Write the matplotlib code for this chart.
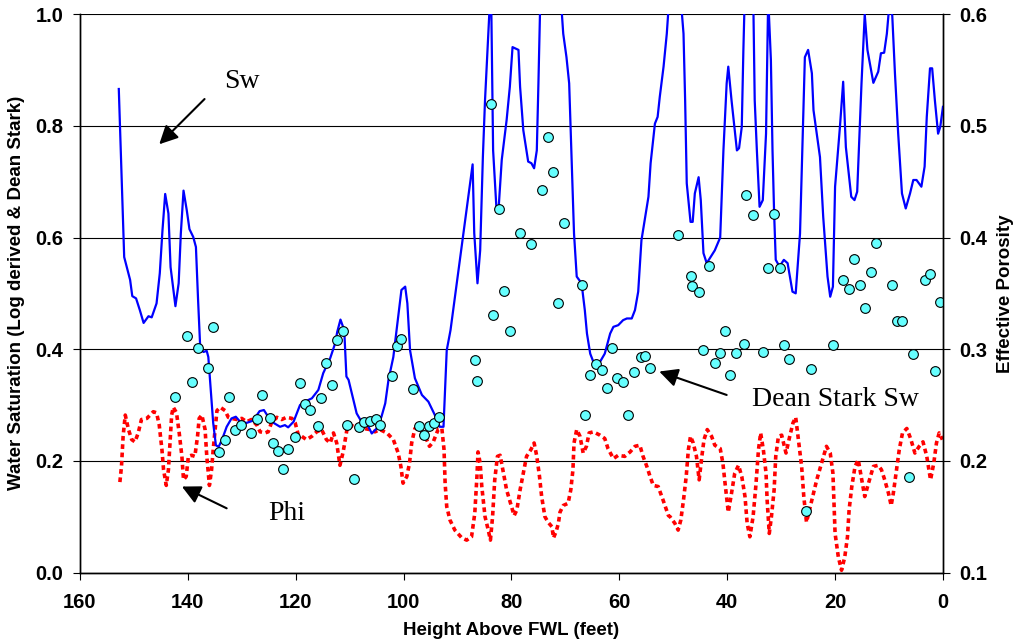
import matplotlib.pyplot as plt
from matplotlib.ticker import FormatStrFormatter

# log derived water saturation vs height above free water level
sw_height = [152.8, 151.8, 150.7, 150.3, 149.6, 148.9, 148.2, 147.3, 146.7, 145.8,
             145.2, 144.7, 144.2, 143.6, 143.2, 142.3, 141.7, 141.3, 140.8, 140.2,
             139.7, 139.0, 138.5, 138.1, 137.7, 137.1, 136.5, 136.2, 135.6, 135.3,
             134.8, 134.3, 133.7, 132.8, 131.9, 131.1, 130.3, 129.1, 127.9, 126.7,
             125.9, 125.1, 124.1, 122.9, 122.0, 121.4, 120.4, 119.2, 118.3, 117.0,
             115.8, 114.9, 113.6, 112.7, 112.3, 111.7, 111.0, 110.6, 110.2, 109.3,
             108.7, 107.8, 106.8, 105.9, 105.0, 104.1, 103.4, 102.8, 101.9, 100.4,
             99.7, 99.3, 98.8, 97.9, 96.6, 95.4, 94.2, 93.3, 92.6, 92.0,
             91.3, 88.9, 87.2, 86.9, 86.3, 85.8, 85.3, 84.9, 84.3, 83.8,
             83.4, 82.8, 82.4, 81.8, 80.9, 80.3, 79.8, 78.7, 78.4, 77.8,
             76.9, 76.3, 75.8, 75.3, 75.0, 74.6, 73.0, 71.0, 70.4, 69.8,
             69.3, 68.8, 68.4, 67.9, 67.0, 66.4, 66.0, 65.4, 64.8, 63.6,
             62.7, 61.7, 61.1, 60.2, 59.3, 58.6, 57.7, 57.1, 56.5, 55.9,
             55.2, 54.6, 54.2, 53.4, 52.9, 52.5, 51.8, 51.2, 50.6, 49.7,
             48.8, 48.1, 47.8, 47.5, 46.8, 46.4, 46.0, 45.3, 44.9, 44.4,
             43.8, 42.9, 42.3, 41.3, 40.7, 40.1, 39.8, 39.2, 38.2, 37.8,
             37.3, 37.0, 36.7, 36.0, 35.2, 34.9, 34.5, 34.0, 33.4, 32.8,
             32.4, 31.9, 31.6, 31.3, 31.0, 30.3, 29.5, 28.8, 27.9, 27.3,
             26.5, 25.6, 25.0, 24.3, 24.0, 22.8, 22.2, 21.4, 20.9, 20.4,
             20.0, 19.1, 18.5, 18.0, 17.0, 16.4, 15.9, 15.1, 14.5, 14.0,
             12.9, 12.0, 11.5, 10.9, 10.4, 10.0, 9.4, 8.9, 8.3, 7.6,
             6.9, 6.1, 5.5, 4.9, 4.0, 3.4, 3.0, 2.4, 2.0, 1.5,
             0.9, 0.5, 0.0]
sw = [0.866, 0.565, 0.524, 0.495, 0.491, 0.470, 0.447, 0.459, 0.457, 0.482,
      0.536, 0.613, 0.678, 0.643, 0.547, 0.477, 0.518, 0.607, 0.684, 0.649,
      0.615, 0.601, 0.583, 0.488, 0.402, 0.395, 0.397, 0.386, 0.309, 0.268,
      0.228, 0.225, 0.237, 0.261, 0.276, 0.279, 0.270, 0.268, 0.272, 0.289,
      0.291, 0.279, 0.268, 0.261, 0.264, 0.260, 0.270, 0.300, 0.306, 0.312,
      0.327, 0.357, 0.384, 0.410, 0.431, 0.453, 0.434, 0.351, 0.345, 0.309,
      0.285, 0.270, 0.267, 0.249, 0.258, 0.279, 0.303, 0.345, 0.386, 0.506,
      0.512, 0.482, 0.398, 0.348, 0.318, 0.306, 0.282, 0.261, 0.261, 0.398,
      0.434, 0.607, 0.731, 0.608, 0.518, 0.577, 0.744, 0.846, 0.965, 1.06,
      0.756, 0.655, 0.649, 0.739, 0.810, 0.870, 0.941, 0.936, 0.870, 0.792,
      0.736, 0.733, 0.724, 0.756, 0.876, 1.05, 1.15, 1.05, 0.965, 0.923,
      0.876, 0.727, 0.607, 0.530, 0.518, 0.470, 0.428, 0.392, 0.377, 0.377,
      0.392, 0.428, 0.440, 0.443, 0.452, 0.455, 0.455, 0.470, 0.503, 0.595,
      0.637, 0.673, 0.733, 0.804, 0.816, 0.852, 0.906, 0.965, 1.05, 1.12,
      1.05, 0.965, 0.846, 0.697, 0.628, 0.628, 0.679, 0.708, 0.667, 0.572,
      0.554, 0.568, 0.577, 0.600, 0.756, 0.876, 0.906, 0.846, 0.756, 0.760,
      0.798, 0.936, 1.05, 1.10, 1.05, 0.846, 0.756, 0.655, 0.667, 0.786,
      1.03, 0.918, 0.756, 0.643, 0.560, 0.548, 0.560, 0.554, 0.503, 0.500,
      0.607, 0.923, 0.936, 0.894, 0.828, 0.744, 0.637, 0.530, 0.494, 0.512,
      0.691, 0.798, 0.879, 0.762, 0.673, 0.667, 0.682, 0.876, 1.0, 0.936,
      0.877, 0.897, 0.930, 0.931, 0.965, 1.01, 0.998, 0.894, 0.786, 0.679,
      0.652, 0.679, 0.703, 0.703, 0.691, 0.727, 0.816, 0.903, 0.903, 0.846,
      0.786, 0.798, 0.834]

# core plugs (Dean Stark)
ds_height = [142.3, 140.2, 139.3, 138.2, 136.3, 135.3, 134.2, 133.2, 132.3, 131.3,
             130.2, 128.3, 127.2, 126.2, 124.8, 124.3, 123.2, 122.3, 121.4, 120.1,
             119.2, 118.3, 117.3, 115.8, 115.4, 114.3, 113.2, 112.3, 111.3, 110.4,
             109.2, 108.2, 107.3, 106.2, 105.2, 104.3, 102.2, 101.3, 100.4, 98.2,
             97.2, 96.3, 95.3, 94.3, 93.4, 86.7, 86.3, 83.8, 83.4, 82.3,
             81.3, 80.3, 78.4, 76.3, 74.3, 73.3, 72.3, 71.4, 70.3, 67.0,
             66.3, 65.4, 64.4, 63.3, 62.3, 61.3, 60.4, 59.3, 58.3, 57.3,
             55.9, 55.3, 54.4, 49.2, 46.8, 46.5, 45.3, 44.4, 43.4, 42.3,
             41.3, 40.4, 39.4, 38.4, 36.8, 36.5, 35.3, 33.4, 32.4, 31.3,
             30.3, 29.5, 28.5, 25.4, 24.4, 20.3, 18.5, 17.4, 16.4, 15.4,
             14.5, 13.3, 12.4, 9.4, 8.5, 7.5, 6.3, 5.5, 3.3, 2.4,
             1.4, 0.6]
ds_sw = [0.315, 0.424, 0.342, 0.403, 0.366, 0.440, 0.215, 0.238, 0.315, 0.256,
         0.264, 0.249, 0.275, 0.318, 0.276, 0.232, 0.218, 0.185, 0.222, 0.242,
         0.340, 0.302, 0.291, 0.262, 0.313, 0.375, 0.335, 0.416, 0.432, 0.264,
         0.167, 0.260, 0.269, 0.271, 0.275, 0.264, 0.352, 0.406, 0.418, 0.329,
         0.262, 0.247, 0.263, 0.267, 0.278, 0.380, 0.343, 0.840, 0.462, 0.651,
         0.505, 0.432, 0.608, 0.589, 0.685, 0.780, 0.717, 0.483, 0.626, 0.515,
         0.282, 0.353, 0.373, 0.363, 0.331, 0.403, 0.349, 0.342, 0.282, 0.360,
         0.386, 0.388, 0.366, 0.605, 0.531, 0.513, 0.502, 0.398, 0.549, 0.375,
         0.394, 0.432, 0.354, 0.394, 0.410, 0.677, 0.640, 0.395, 0.546, 0.642,
         0.546, 0.408, 0.383, 0.110, 0.364, 0.408, 0.524, 0.508, 0.562, 0.515,
         0.473, 0.538, 0.591, 0.515, 0.451, 0.451, 0.171, 0.391, 0.524, 0.534,
         0.361, 0.484]

# effective porosity log
phi_height = [152.6, 152.3, 152.0, 151.6, 151.0, 150.4, 149.8, 149.2, 148.6, 147.6,
              146.4, 145.8, 145.3, 144.8, 144.5, 144.0, 143.6, 143.3, 143.0, 142.7,
              142.1, 141.6, 141.1, 140.8, 140.3, 139.9, 139.3, 138.7, 138.2, 137.9,
              137.4, 136.8, 136.5, 136.0, 135.6, 135.3, 135.0, 134.6, 134.0, 133.1,
              132.5, 131.9, 130.9, 130.0, 129.1, 128.2, 127.2, 126.6, 125.7, 125.1,
              124.5, 123.5, 122.6, 121.7, 120.7, 120.1, 119.5, 118.9, 118.0, 117.0,
              116.1, 115.2, 114.3, 113.6, 113.0, 112.4, 111.8, 111.2, 110.5, 109.9,
              108.7, 107.5, 106.2, 105.3, 104.4, 103.1, 101.9, 101.0, 100.5, 100.1,
              99.4, 98.9, 98.5, 97.9, 97.0, 96.0, 95.2, 94.5, 93.6, 92.9,
              92.5, 92.3, 92.0, 91.4, 90.5, 89.2, 88.3, 87.4, 86.8, 86.4,
              86.2, 85.8, 85.5, 84.9, 84.3, 83.9, 83.5, 83.1, 82.6, 82.1,
              81.6, 80.9, 80.0, 79.5, 79.0, 78.4, 77.8, 77.2, 76.4, 75.8,
              75.3, 74.8, 74.4, 73.8, 73.2, 72.5, 72.2, 71.7, 71.3, 71.0,
              70.4, 69.5, 69.0, 68.6, 68.4, 67.9, 67.3, 66.7, 66.1, 65.6,
              64.8, 63.6, 62.7, 62.1, 61.1, 60.2, 59.0, 58.0, 57.1, 56.2,
              55.6, 54.9, 54.3, 53.7, 52.8, 51.9, 50.9, 50.6, 49.7, 49.1,
              48.6, 48.1, 47.6, 47.2, 46.8, 46.3, 45.7, 45.2, 44.7, 44.3,
              43.7, 42.9, 42.3, 41.3, 40.8, 40.4, 39.8, 39.2, 38.6, 37.9,
              37.3, 36.7, 36.3, 35.8, 35.2, 34.7, 34.2, 33.8, 33.3, 32.8,
              32.6, 32.2, 31.8, 31.3, 31.0, 30.5, 29.9, 29.1, 28.4, 27.8,
              27.3, 26.8, 26.2, 25.8, 25.3, 24.3, 23.4, 22.5, 21.6, 20.9,
              20.4, 20.2, 20.0, 19.4, 18.8, 18.2, 17.7, 17.4, 16.9, 16.3,
              15.7, 15.2, 14.5, 13.8, 12.9, 12.0, 11.4, 10.8, 10.1, 9.6,
              9.2, 8.7, 8.1, 7.5, 6.7, 6.0, 5.2, 4.4, 3.7, 3.0,
              2.3, 1.7, 1.2, 0.7, 0.1]
phi = [0.181, 0.195, 0.222, 0.241, 0.228, 0.219, 0.217, 0.225, 0.237, 0.238,
       0.244, 0.243, 0.232, 0.210, 0.192, 0.178, 0.192, 0.216, 0.241, 0.248,
       0.243, 0.225, 0.204, 0.183, 0.186, 0.204, 0.205, 0.204, 0.222, 0.238,
       0.241, 0.228, 0.205, 0.178, 0.192, 0.210, 0.225, 0.245, 0.248, 0.245,
       0.239, 0.238, 0.237, 0.238, 0.235, 0.237, 0.232, 0.226, 0.225, 0.226,
       0.234, 0.239, 0.237, 0.239, 0.238, 0.234, 0.223, 0.222, 0.219, 0.222,
       0.226, 0.228, 0.219, 0.216, 0.225, 0.216, 0.196, 0.208, 0.228, 0.232,
       0.230, 0.229, 0.228, 0.226, 0.228, 0.225, 0.219, 0.207, 0.195, 0.180,
       0.186, 0.198, 0.216, 0.229, 0.229, 0.222, 0.213, 0.217, 0.228, 0.229,
       0.210, 0.180, 0.159, 0.147, 0.138, 0.131, 0.129, 0.132, 0.153, 0.186,
       0.208, 0.198, 0.177, 0.150, 0.138, 0.129, 0.150, 0.183, 0.204, 0.205,
       0.192, 0.174, 0.159, 0.151, 0.156, 0.174, 0.189, 0.204, 0.210, 0.216,
       0.204, 0.186, 0.168, 0.150, 0.145, 0.141, 0.131, 0.137, 0.144, 0.154,
       0.160, 0.162, 0.174, 0.192, 0.216, 0.228, 0.222, 0.207, 0.213, 0.225,
       0.226, 0.223, 0.220, 0.211, 0.202, 0.205, 0.204, 0.208, 0.213, 0.214,
       0.204, 0.195, 0.186, 0.178, 0.177, 0.165, 0.151, 0.150, 0.144, 0.138,
       0.147, 0.165, 0.186, 0.210, 0.222, 0.216, 0.204, 0.183, 0.204, 0.219,
       0.228, 0.222, 0.214, 0.211, 0.198, 0.180, 0.154, 0.171, 0.189, 0.196,
       0.186, 0.168, 0.144, 0.132, 0.150, 0.177, 0.210, 0.225, 0.210, 0.189,
       0.165, 0.135, 0.150, 0.174, 0.204, 0.222, 0.223, 0.207, 0.222, 0.234,
       0.239, 0.219, 0.195, 0.168, 0.145, 0.165, 0.183, 0.198, 0.213, 0.207,
       0.189, 0.162, 0.135, 0.114, 0.102, 0.114, 0.132, 0.156, 0.177, 0.195,
       0.201, 0.187, 0.168, 0.180, 0.195, 0.196, 0.192, 0.183, 0.171, 0.160,
       0.171, 0.189, 0.210, 0.225, 0.229, 0.220, 0.207, 0.213, 0.217, 0.204,
       0.183, 0.198, 0.216, 0.225, 0.219]

label_font = dict(family=['Liberation Sans'], weight='bold')
note_font = dict(family=['Liberation Serif'], fontsize=20)

fig = plt.figure(figsize=(10.16, 6.44), dpi=100)
ax = fig.add_axes([0.0787, 0.111, 0.8494, 0.867])
ax2 = ax.twinx()
# porosity axis sits underneath so the saturation data is drawn on top
ax2.set_zorder(1)
ax.set_zorder(2)
ax.patch.set_visible(False)

ax2.plot(phi_height, phi, color='red', lw=2.6, linestyle=(0, (1.3, 1.0)))
ax.plot(sw_height, sw, color='#0000FF', lw=1.6)
ax.plot(ds_height, ds_sw, 'o', ms=7, mfc='#66FFFF', mec='black', mew=0.8)

ax.set_xlim(160, 0)
ax.set_ylim(0, 1.0)
ax2.set_ylim(0.1, 0.6)
ax.set_xticks(range(160, -1, -20))
ax.set_yticks([0.0, 0.2, 0.4, 0.6, 0.8, 1.0])
ax2.set_yticks([0.1, 0.2, 0.3, 0.4, 0.5, 0.6])
ax.yaxis.set_major_formatter(FormatStrFormatter('%.1f'))
ax2.yaxis.set_major_formatter(FormatStrFormatter('%.1f'))
ax2.yaxis.grid(True, color='black', lw=0.8)

for a in (ax, ax2):
    a.spines['top'].set_visible(False)
    for s in ('left', 'right', 'bottom'):
        a.spines[s].set_linewidth(1.0)
ax.tick_params(axis='x', direction='out', length=5, pad=10, labelsize=14.5)
ax.tick_params(axis='y', direction='out', length=5, pad=7, labelsize=14.5)
ax2.tick_params(axis='y', direction='out', length=5, pad=7, labelsize=14.5)
for lab in ax.get_xticklabels() + ax.get_yticklabels() + ax2.get_yticklabels():
    lab.set_fontfamily(label_font['family'])
    lab.set_fontweight('bold')

ax.set_xlabel('Height Above FWL (feet)', fontsize=13.5, **label_font)
ax.set_ylabel('Water Saturation (Log derived & Dean Stark)', fontsize=13.5, **label_font)
ax2.set_ylabel('Effective Porosity', fontsize=13.5, rotation=90, **label_font)
ax.xaxis.set_label_coords(0.5, -0.088)
ax.yaxis.set_label_coords(-0.064, 0.5)
ax2.yaxis.set_label_coords(1.063, 0.5)

arrow = dict(arrowstyle='-|>', color='black', lw=1.5, mutation_scale=28, shrinkA=0, shrinkB=0)
ax.annotate('', xy=(145.3, 0.767), xytext=(136.9, 0.848), arrowprops=arrow)
ax.annotate('', xy=(141.1, 0.154), xytext=(132.8, 0.115), arrowprops=arrow)
ax.annotate('', xy=(52.6, 0.360), xytext=(40.1, 0.318), arrowprops=arrow)
ax.text(130.0, 0.879, 'Sw', ha='center', va='center', **note_font)
ax.text(121.7, 0.106, 'Phi', ha='center', va='center', **note_font)
ax.text(20.0, 0.309, 'Dean Stark Sw', ha='center', va='center', **note_font)

fig.savefig('out.png', dpi=100, facecolor='white')
